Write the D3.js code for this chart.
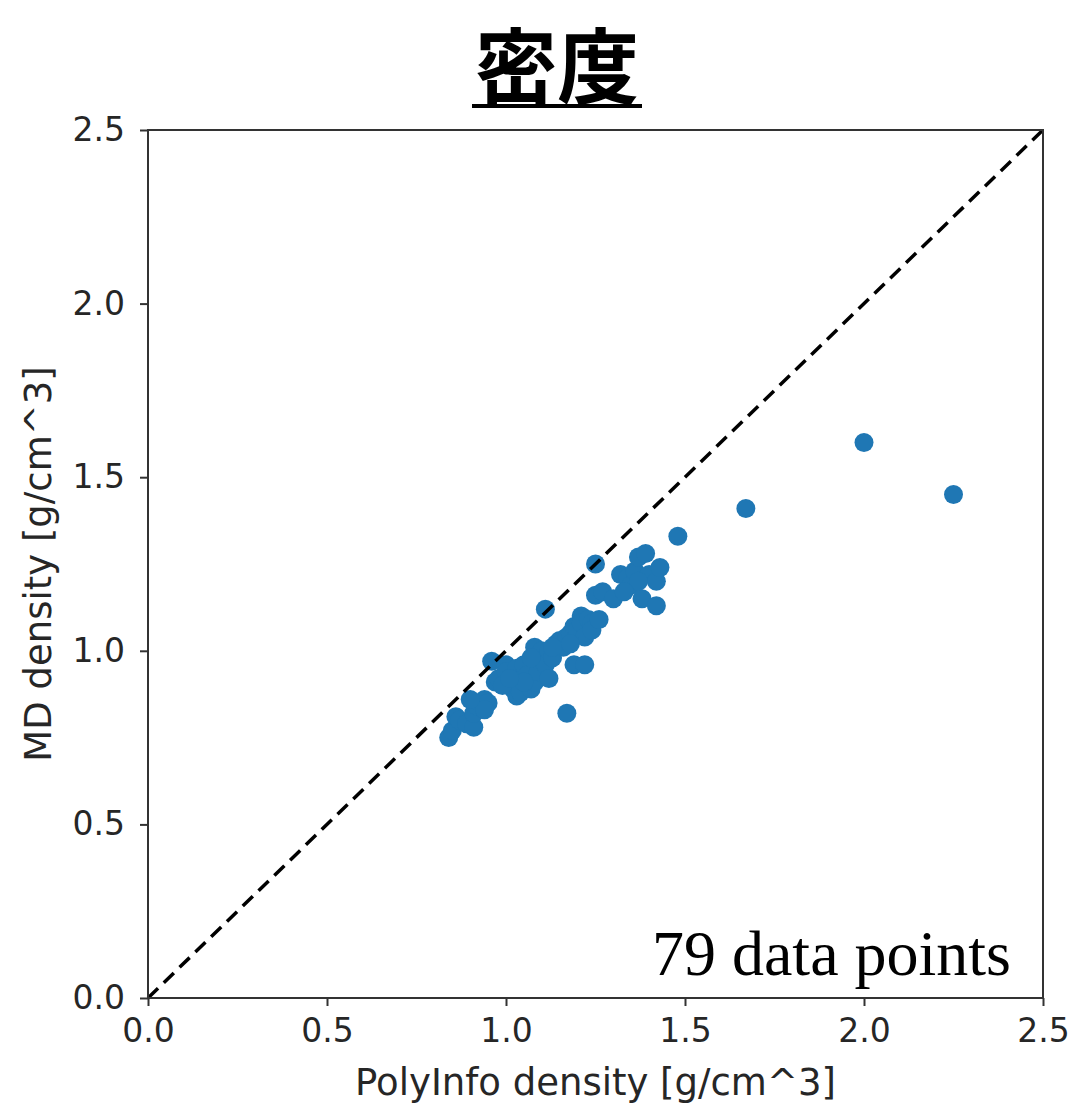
<!DOCTYPE html>
<html>
<head>
<meta charset="utf-8">
<script src="https://cdn.jsdelivr.net/npm/d3@7"></script>
<style>
  body { margin: 0; background: #fff; }
</style>
</head>
<body>
<script>
// chart values
var polyInfo = [2.00, 2.25, 1.67, 1.48, 1.25, 1.11, 1.17, 0.84, 0.85, 0.86,
                0.87, 0.89, 0.91, 0.91, 0.92, 0.93, 0.94, 0.95, 0.96, 0.97,
                0.98, 1.00, 1.00, 1.01, 1.02, 1.03, 1.03, 1.04, 1.05, 1.06,
                1.07, 1.08, 1.08, 1.09, 1.10, 1.11, 1.12, 1.12, 1.13, 1.14,
                1.15, 1.16, 1.17, 1.18, 1.19, 1.19, 1.20, 1.21, 1.21, 1.22,
                1.22, 1.23, 1.24, 1.25, 1.27, 1.30, 1.32, 1.34, 1.35, 1.36,
                1.37, 1.38, 1.39, 1.40, 1.42, 1.43, 1.42, 1.37, 1.07, 1.05,
                0.99, 0.94, 1.13, 1.24, 1.18, 0.90, 1.01, 1.26, 1.33];
var mdDensity = [1.60, 1.45, 1.41, 1.33, 1.25, 1.12, 0.82, 0.75, 0.77, 0.81,
                 0.80, 0.79, 0.78, 0.82, 0.84, 0.85, 0.86, 0.85, 0.97, 0.91,
                 0.92, 0.96, 0.94, 0.90, 0.89, 0.95, 0.87, 0.88, 0.96, 0.93,
                 0.89, 0.91, 1.01, 0.94, 1.00, 0.96, 0.92, 1.00, 0.98, 1.02,
                 1.03, 1.01, 1.04, 1.05, 0.96, 1.07, 1.06, 1.10, 1.08, 0.96,
                 1.04, 1.09, 1.08, 1.16, 1.17, 1.15, 1.22, 1.21, 1.19, 1.23,
                 1.27, 1.15, 1.28, 1.22, 1.20, 1.24, 1.13, 1.20, 0.98, 0.91,
                 0.90, 0.83, 1.01, 1.06, 1.02, 0.86, 0.92, 1.09, 1.17];
var tickValues = [0.0, 0.5, 1.0, 1.5, 2.0, 2.5];
var titleText = "密度";
var xLabel = "PolyInfo density [g/cm^3]";
var yLabel = "MD density [g/cm^3]";
var noteText = polyInfo.length + " data points";

var width = 1072, height = 1107;
var margin = {top: 130, right: 29, bottom: 109, left: 148};

var svg = d3.select("body").append("svg")
    .attr("width", width)
    .attr("height", height);

var x = d3.scaleLinear().domain([0, 2.5]).range([margin.left, width - margin.right]);
var y = d3.scaleLinear().domain([0, 2.5]).range([height - margin.bottom, margin.top]);

// title, underlined
svg.append("text")
   .attr("x", 557)
   .attr("y", 97)
   .attr("text-anchor", "middle")
   .style("font-family", "'Noto Sans CJK JP', 'Noto Sans CJK SC', sans-serif")
   .style("font-weight", "bold")
   .style("font-size", "82px")
   .text(titleText);
svg.append("line")
   .attr("x1", 472).attr("x2", 642)
   .attr("y1", 106).attr("y2", 106)
   .attr("stroke", "#000")
   .attr("stroke-width", 4);

// points
var points = polyInfo.map(function(d, i) { return {px: d, md: mdDensity[i]}; });
svg.append("g")
   .selectAll("circle")
   .data(points)
   .enter()
   .append("circle")
   .attr("cx", function(d) { return x(d.px); })
   .attr("cy", function(d) { return y(d.md); })
   .attr("r", 9.5)
   .attr("fill", "#1f77b4");

// y = x reference line
svg.append("line")
   .attr("x1", x(0)).attr("y1", y(0))
   .attr("x2", x(2.5)).attr("y2", y(2.5))
   .attr("stroke", "#000")
   .attr("stroke-width", 3.5)
   .attr("stroke-dasharray", "14,8");

// axes
var xAxis = svg.append("g")
   .attr("transform", "translate(0," + y(0) + ")")
   .call(d3.axisBottom(x).tickValues(tickValues).tickFormat(d3.format(".1f")).tickSizeOuter(0).tickSize(8).tickPadding(13));
var yAxis = svg.append("g")
   .attr("transform", "translate(" + x(0) + ",0)")
   .call(d3.axisLeft(y).tickValues(tickValues).tickFormat(d3.format(".1f")).tickSizeOuter(0).tickSize(8).tickPadding(15));

[xAxis, yAxis].forEach(function(g) {
  g.select(".domain").remove();
  g.selectAll("line").attr("stroke", "#333").attr("stroke-width", 2);
  g.selectAll("text")
   .attr("fill", "#262626")
   .style("font-family", "'DejaVu Sans', sans-serif")
   .style("font-size", "33px");
});

// frame
svg.append("rect")
   .attr("x", x(0)).attr("y", y(2.5))
   .attr("width", x(2.5) - x(0))
   .attr("height", y(0) - y(2.5))
   .attr("fill", "none")
   .attr("stroke", "#333")
   .attr("stroke-width", 2);

// axis labels
svg.append("text")
   .attr("x", (x(0) + x(2.5)) / 2)
   .attr("y", 1095)
   .attr("text-anchor", "middle")
   .attr("fill", "#262626")
   .style("font-family", "'DejaVu Sans', sans-serif")
   .style("font-size", "37px")
   .text(xLabel);
svg.append("text")
   .attr("transform", "translate(51," + (y(0) + y(2.5)) / 2 + ") rotate(-90)")
   .attr("text-anchor", "middle")
   .attr("fill", "#262626")
   .style("font-family", "'DejaVu Sans', sans-serif")
   .style("font-size", "37px")
   .text(yLabel);

// count note
svg.append("text")
   .attr("x", 1011)
   .attr("y", 975)
   .attr("text-anchor", "end")
   .attr("fill", "#000")
   .style("font-family", "'Liberation Serif', 'Times New Roman', serif")
   .style("font-size", "64px")
   .text(noteText);
</script>
</body>
</html>
